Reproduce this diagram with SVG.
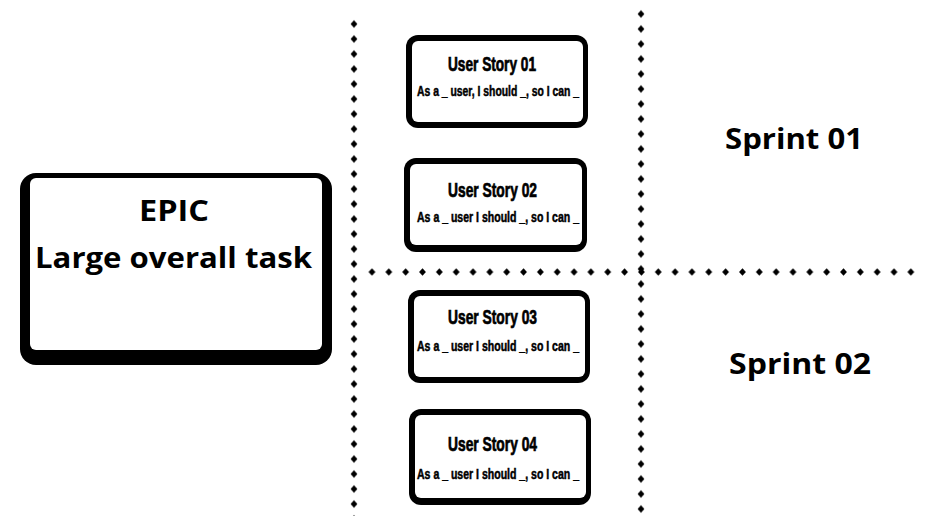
<svg xmlns="http://www.w3.org/2000/svg" width="938" height="516" viewBox="0 0 938 516">
<defs>
<style>
.frame{fill:#000}
.inner{fill:#fff}
.title{font-family:"Liberation Sans",Arial,sans-serif;font-weight:bold;font-size:19.5px;fill:#000;stroke:#000;stroke-width:0.7}
.sub{font-family:"Liberation Sans",Arial,sans-serif;font-weight:bold;font-size:14px;fill:#000;stroke:#000;stroke-width:0.5}
.big{font-family:"Open Sans","Liberation Sans",sans-serif;font-weight:bold;font-size:28px;fill:#000}
</style>
<pattern id="vdotsL" x="349" y="16.5" width="10" height="15" patternUnits="userSpaceOnUse">
<polygon points="5,3.8 8.4,7.5 5,11.2 1.6,7.5" fill="#000"/>
</pattern>
<pattern id="vdotsR" x="636" y="6.5" width="10" height="15" patternUnits="userSpaceOnUse">
<polygon points="5,3.8 8.4,7.5 5,11.2 1.6,7.5" fill="#000"/>
</pattern>
<pattern id="hdots" x="363.58" y="267" width="16.84" height="10" patternUnits="userSpaceOnUse">
<polygon points="8.42,1.3 11.8,5 8.42,8.7 5,5" fill="#000"/>
</pattern>
</defs>
<rect width="938" height="516" fill="#fff"/>
<g id="connectors">
<rect x="349" y="16.5" width="10" height="500" fill="url(#vdotsL)"/>
<rect x="636" y="6.5" width="10" height="510" fill="url(#vdotsR)"/>
<rect x="363.58" y="267" width="555" height="10" fill="url(#hdots)"/>
</g>
<g id="epic">
<rect class="frame" x="20" y="173" width="312" height="192" rx="16"/>
<rect class="inner" x="30" y="178" width="292" height="172" rx="6"/>
<text class="big" x="139" y="221" textLength="70" lengthAdjust="spacingAndGlyphs">EPIC</text>
<text class="big" x="35" y="268" textLength="277" lengthAdjust="spacingAndGlyphs">Large overall task</text>
</g>
<g id="story1">
<rect class="frame" x="406" y="35" width="182" height="93" rx="12"/>
<rect class="inner" x="412" y="41" width="171" height="81" rx="6"/>
<text class="title" x="448" y="71" textLength="88" lengthAdjust="spacingAndGlyphs">User Story 01</text>
<text class="sub" x="417" y="96" textLength="162" lengthAdjust="spacingAndGlyphs">As a _ user, I should _, so I can _</text>
</g>
<g id="story2">
<rect class="frame" x="404" y="158" width="183" height="94" rx="12"/>
<rect class="inner" x="410" y="164" width="172" height="81" rx="6"/>
<text class="title" x="448" y="197" textLength="89" lengthAdjust="spacingAndGlyphs">User Story 02</text>
<text class="sub" x="417" y="222" textLength="162" lengthAdjust="spacingAndGlyphs">As a _ user  I should _, so I can _</text>
</g>
<g id="story3">
<rect class="frame" x="408" y="290" width="182" height="93" rx="12"/>
<rect class="inner" x="414" y="296" width="171" height="81" rx="6"/>
<text class="title" x="448" y="324" textLength="89" lengthAdjust="spacingAndGlyphs">User Story 03</text>
<text class="sub" x="417" y="351" textLength="162" lengthAdjust="spacingAndGlyphs">As a _ user  I should _, so I can _</text>
</g>
<g id="story4">
<rect class="frame" x="409" y="409" width="182" height="96" rx="12"/>
<rect class="inner" x="415" y="415" width="171" height="83" rx="6"/>
<text class="title" x="448" y="451" textLength="89" lengthAdjust="spacingAndGlyphs">User Story 04</text>
<text class="sub" x="417" y="479" textLength="162" lengthAdjust="spacingAndGlyphs">As a _ user  I should _, so I can _</text>
</g>
<g id="sprint1">
<text class="big" x="725" y="149" font-size="30" textLength="138" lengthAdjust="spacingAndGlyphs">Sprint 01</text>
</g>
<g id="sprint2">
<text class="big" x="729" y="374" font-size="30" textLength="142" lengthAdjust="spacingAndGlyphs">Sprint 02</text>
</g>
</svg>
